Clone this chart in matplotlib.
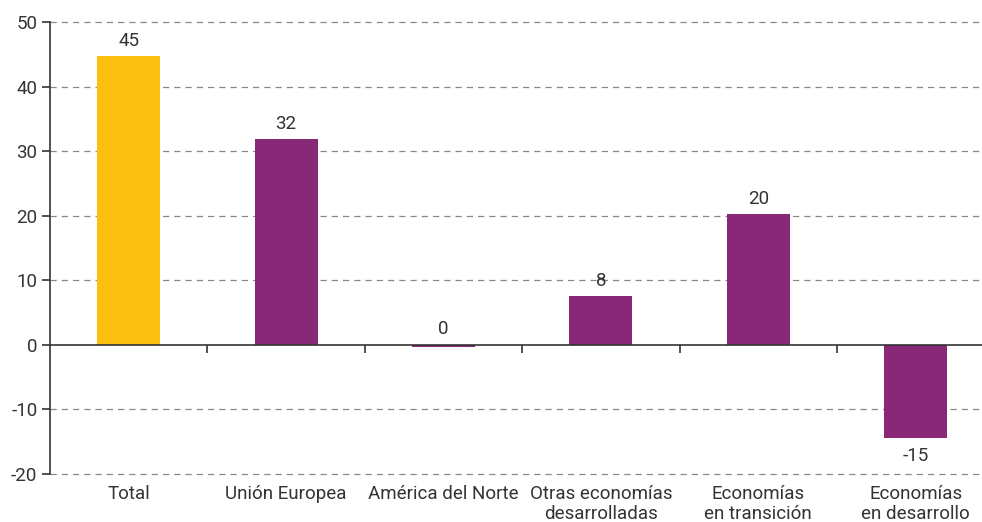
import matplotlib.pyplot as plt
from matplotlib import font_manager

categories = ["Total", "Unión Europea", "América del Norte",
              "Otras economías\ndesarrolladas", "Economías\nen transición",
              "Economías\nen desarrollo"]
values = [44.7, 31.8, -0.4, 7.5, 20.2, -14.5]
labels = ["45", "32", "0", "8", "20", "-15"]
colors = ["#FCC110", "#8A2878", "#8A2878", "#8A2878", "#8A2878", "#8A2878"]
yticks = [-20, -10, 0, 10, 20, 30, 40, 50]

names = {f.name for f in font_manager.fontManager.ttflist}
fam = "Liberation Sans Narrow" if "Liberation Sans Narrow" in names else "Roboto"
plt.rcParams['font.family'] = [fam, 'DejaVu Sans']

fig = plt.figure(figsize=(9.82, 5.22), dpi=100)
ax = fig.add_axes([0.0509, 0.092, 0.9617, 0.866])

x = list(range(len(categories)))
ax.bar(x, values, width=0.4, color=colors, zorder=3)

for xi, v, lab in zip(x, values, labels):
    if v < -1:
        ax.text(xi, v - 1.3, lab, ha='center', va='top', fontsize=13.5, color='#333333')
    else:
        ax.text(xi, max(v, 0) + 1.0, lab, ha='center', va='bottom', fontsize=13.5, color='#333333')

ax.set_xlim(-0.5, 5.5)
ax.set_ylim(-20, 50)
ax.set_yticks(yticks)
ax.set_yticklabels([str(t) for t in yticks], fontsize=13.5, color='#333333')
for t in yticks:
    if t != 0:
        ax.axhline(t, color='#888888', lw=0.9, ls=(0, (5, 4)), zorder=1, clip_on=False)

ax.spines['top'].set_visible(False)
ax.spines['right'].set_visible(False)
ax.spines['bottom'].set_position(('data', 0))
ax.spines['bottom'].set_color('#333333')
ax.spines['left'].set_color('#333333')
ax.spines['bottom'].set_linewidth(1.2)
ax.spines['left'].set_linewidth(1.2)
ax.spines['bottom'].set_zorder(4)

ax.set_xticks([0.5, 1.5, 2.5, 3.5, 4.5])
ax.set_xticklabels([])
ax.tick_params(axis='x', direction='out', length=6, width=1.2, color='#333333')
ax.tick_params(axis='y', direction='out', length=6, width=1.2, color='#333333', pad=3)

for xi, c in zip(x, categories):
    ax.text(xi, -21.7, c, ha='center', va='top', fontsize=13.5, color='#333333',
            linespacing=1.15)

fig.savefig("out.png", dpi=100)
